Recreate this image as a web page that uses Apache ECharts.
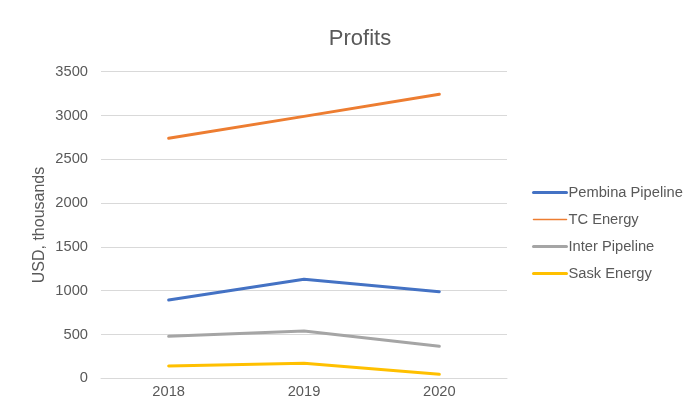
<!DOCTYPE html>
<html><head><meta charset="utf-8">
<script src="https://cdn.jsdelivr.net/npm/echarts@6/dist/echarts.min.js"></script>
<style>html,body{margin:0;padding:0;background:#fff}#c{width:699px;height:420px}</style>
</head><body><div id="c"></div>
<script>
var categories = ['2018', '2019', '2020'];
var pembina = [894, 1130, 989];
var tcEnergy = [2740, 2990, 3242];
var interPipeline = [479, 540, 365];
var saskEnergy = [140, 171, 46];
var seriesNames = ['Pembina Pipeline', 'TC Energy', 'Inter Pipeline', 'Sask Energy'];
var yTicks = [0, 500, 1000, 1500, 2000, 2500, 3000, 3500];

var colors = ['#4472C4', '#ED7D31', '#A5A5A5', '#FFC000'];
var dataSets = [pembina, tcEnergy, interPipeline, saskEnergy];
var font = 'Liberation Sans, Arial, sans-serif';
var chart = echarts.init(document.getElementById('c'), null, {renderer: 'canvas'});
chart.setOption({
  animation: false,
  title: {
    text: 'Profits', left: 355, top: 23, textAlign: 'center',
    textStyle: {fontFamily: font, fontSize: 22, fontWeight: 'normal', color: '#595959'}
  },
  legend: {
    orient: 'vertical', left: 527, top: 180, itemGap: 12, itemWidth: 33, itemHeight: 14,
    itemStyle: {opacity: 0},
    textStyle: {fontFamily: font, fontSize: 14.7, color: '#595959', padding: [0, 0, 0, -3]},
    data: seriesNames.map(function (n, i) {
      return {name: n, itemStyle: {opacity: 0},
        lineStyle: {color: colors[i], width: i === 1 ? 1.5 : 3, opacity: 1}};
    })
  },
  grid: {left: 101, right: 192, top: 71.7, bottom: 41.7, containLabel: false},
  xAxis: {
    type: 'category', data: categories, boundaryGap: true,
    axisLine: {show: true, lineStyle: {color: '#D9D9D9', width: 1}},
    axisTick: {show: false},
    axisLabel: {fontFamily: font, fontSize: 14.7, color: '#595959', margin: 6}
  },
  yAxis: {
    type: 'value', min: yTicks[0], max: yTicks[yTicks.length - 1], interval: yTicks[1] - yTicks[0],
    name: 'USD, thousands', nameLocation: 'middle', nameGap: 53, nameRotate: 90,
    nameMoveOverlap: false,
    nameTextStyle: {fontFamily: font, fontSize: 16, color: '#595959'},
    axisLine: {show: false}, axisTick: {show: false},
    axisLabel: {fontFamily: font, fontSize: 14.7, color: '#595959', margin: 13,
      formatter: function (v) { return String(v); }},
    splitLine: {lineStyle: {color: '#D9D9D9', width: 1}}
  },
  series: seriesNames.map(function (n, i) {
    return {
      name: n, type: 'line', data: dataSets[i], symbol: 'none',
      lineStyle: {color: colors[i], width: 3, cap: 'round'},
      itemStyle: {color: colors[i]}
    };
  })
});
</script></body></html>
